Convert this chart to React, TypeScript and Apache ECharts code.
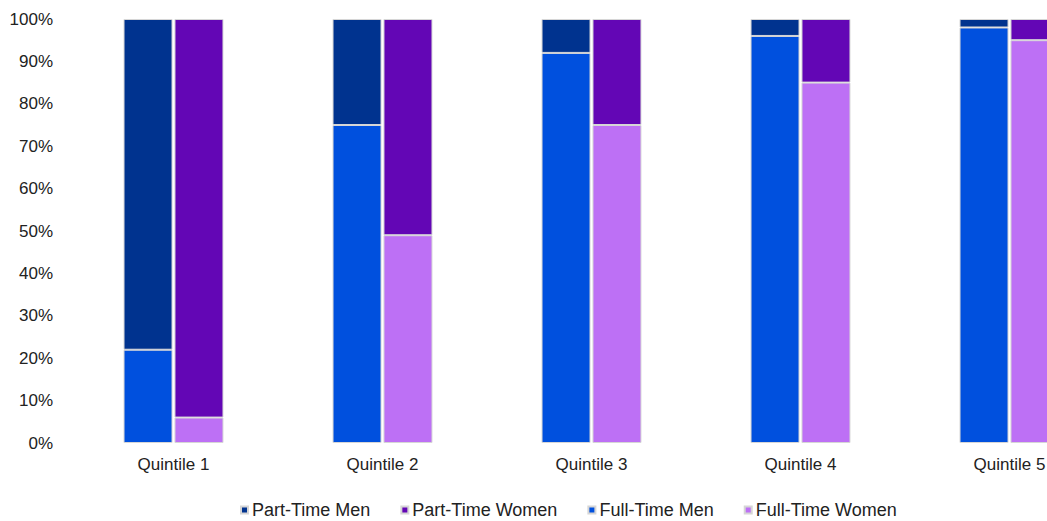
import React, { useEffect, useRef } from "react";
import * as echarts from "echarts";

const categories = ["Quintile 1", "Quintile 2", "Quintile 3", "Quintile 4", "Quintile 5"];
const fullTimeMen = [22, 75, 92, 96, 98];
const partTimeMen = [78, 25, 8, 4, 2];
const fullTimeWomen = [6, 49, 75, 85, 95];
const partTimeWomen = [94, 51, 25, 15, 5];
const legendOrder = ["Part-Time Men", "Part-Time Women", "Full-Time Men", "Full-Time Women"];

const FONT = "'Liberation Sans', Arial, sans-serif";

export default function App() {
  const ref = useRef<HTMLDivElement>(null);
  useEffect(() => {
    if (!ref.current) return;
    const chart = echarts.init(ref.current, undefined, { renderer: "svg" });
    const border = { borderColor: "#d6d6d6", borderWidth: 1 };
    const mk = (name: string, stack: string, data: number[], color: string) => ({
      name,
      type: "bar",
      stack,
      data,
      barWidth: 49,
      barGap: "4%",
      itemStyle: { color, ...border },
    });
    chart.setOption({
      animation: false,
      textStyle: { fontFamily: FONT },
      grid: { left: 69, top: 19, width: 1045, height: 424, outerBoundsMode: "none", containLabel: false },
      legend: {
        data: legendOrder,
        left: 235,
        bottom: -3,
        itemWidth: 7,
        itemHeight: 7,
        itemGap: 30,
        icon: "rect",
        textStyle: { fontSize: 18, color: "#222", fontFamily: FONT, padding: [0, 0, 0, -1] },
      },
      xAxis: {
        type: "category",
        data: categories,
        axisLine: { show: false },
        axisTick: { show: false },
        axisLabel: { fontSize: 17, color: "#222", margin: 13, fontFamily: FONT },
      },
      yAxis: {
        type: "value",
        min: 0,
        max: 100,
        interval: 10,
        splitLine: { show: false },
        axisLine: { show: false },
        axisTick: { show: false },
        axisLabel: { formatter: "{value}%", fontSize: 17, color: "#222", margin: 16, fontFamily: FONT },
      },
      series: [
        mk("Full-Time Men", "men", fullTimeMen, "#0050DE"),
        mk("Part-Time Men", "men", partTimeMen, "#00338F"),
        mk("Full-Time Women", "women", fullTimeWomen, "#BD70F5"),
        mk("Part-Time Women", "women", partTimeWomen, "#6306B5"),
      ],
    });
    return () => chart.dispose();
  }, []);
  return (
    <div
      ref={ref}
      style={{ position: "fixed", left: 0, top: 0, width: 1047, height: 521, background: "#fff" }}
    />
  );
}
